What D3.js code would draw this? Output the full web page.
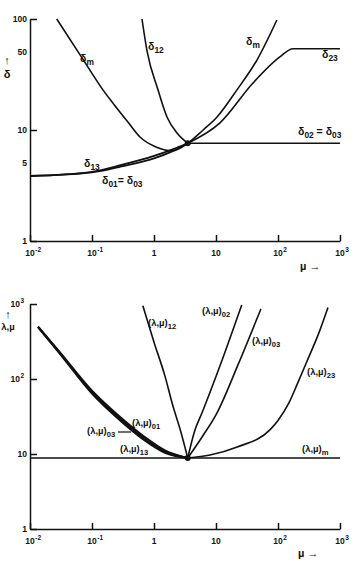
<!DOCTYPE html>
<html>
<head>
<meta charset="utf-8">
<script src="https://cdn.jsdelivr.net/npm/d3@7"></script>
<style>
  body { margin: 0; background: #fff; }
  svg text { font-family: "Liberation Sans", Arial, sans-serif; fill: #111; font-weight: bold; }
</style>
</head>
<body>
<div id="chart"></div>
<script>
var width = 358;
var height = 568;

// shared mu axis
var muDomain = [0.01, 1000];
var muDecades = [0.01, 0.1, 1, 10, 100, 1000];
var muLabels = [["10", "-2"], ["10", "-1"], ["1", ""], ["10", ""], ["10", "2"], ["10", "3"]];

// top panel (delta)
var deltaDomain = [1, 100];
var deltaMajor = [1, 10, 100];
var deltaLabels = [["1", 1], ["5", 5], ["10", 10], ["50", 50], ["100", 100]];
var deltaMin = [3.5, 7.6];
var deltaM = [[0.027, 100], [0.072, 43], [0.15, 23], [0.226, 17], [0.38, 11.8], [0.6, 8.6], [1.1, 7.0],
              [2.0, 6.5], [3.5, 7.6], [6.2, 10], [10.4, 13.1], [21.8, 23], [45.8, 42.7], [96, 98]];
var delta12 = [[0.64, 100], [0.77, 52], [1.16, 23], [1.62, 13.1], [2.35, 9.4], [3.5, 7.6]];
var delta23 = [[3.5, 7.6], [11.6, 11.6], [39.5, 26.5], [107, 45.5], [174, 54], [1000, 54]];
var delta02 = [[3.5, 7.6], [1000, 7.6]];
var delta13 = [[0.01, 3.85], [0.1, 4.2], [0.3, 4.85], [1, 5.85], [2, 6.7], [3.5, 7.6]];
var delta01 = [[0.01, 3.85], [0.1, 4.15], [0.3, 4.7], [1, 5.55], [2, 6.45], [3.5, 7.6]];

// bottom panel (lambda, mu)
var lamDomain = [1, 1000];
var lamMajor = [1, 10, 100, 1000];
var lamLabels = [[["1", ""], 1], [["10", ""], 10], [["10", "2"], 100], [["10", "3"], 1000]];
var lamMin = [3.5, 8.85];
var lamM = [[0.01, 8.85], [1000, 8.85]];
var lam01 = [[0.0135, 500], [0.03, 230], [0.1, 70], [0.3, 30], [0.7, 17], [1.5, 11.2], [3.5, 8.85]];
var lam03a = [[0.0135, 495], [0.03, 225], [0.1, 67], [0.3, 28.5], [0.7, 16.1], [1.5, 10.8], [3.5, 8.85]];
var lam13 = [[0.0135, 490], [0.03, 220], [0.1, 64], [0.3, 27], [0.7, 15.3], [1.5, 10.4], [3.5, 8.85]];
var lam12 = [[0.66, 950], [1, 310], [1.5, 110], [2, 45], [2.7, 20], [3.5, 8.85]];
var lam02 = [[3.5, 8.85], [4.5, 20], [6, 36], [11.6, 150], [26, 970]];
var lam03 = [[3.5, 8.85], [6, 17], [10.5, 36], [22.6, 154], [53, 860]];
var lam23 = [[3.5, 8.85], [8, 9.7], [22, 12.4], [74, 21], [100, 28], [150, 48], [210, 90], [300, 180], [450, 400], [640, 900]];

var svg = d3.select("#chart")
            .append("svg")
            .attr("width", width)
            .attr("height", height);

var x = d3.scaleLog().domain(muDomain).range([30, 340]);
var yTop = d3.scaleLog().domain(deltaDomain).range([241, 19]);
var yBot = d3.scaleLog().domain(lamDomain).range([529, 304]);

// text with subscripts: parts alternate normal / subscript
function label(px, py, parts, size) {
    var t = svg.append("text")
               .attr("x", px)
               .attr("y", py)
               .style("font-size", size + "px");
    var shift = 0;
    parts.forEach(function(p, i) {
        if (p === "") return;
        var sub = i % 2 == 1;
        var dy = (sub ? 3 : 0) - shift;
        shift = sub ? 3 : 0;
        t.append("tspan")
         .attr("dy", dy)
         .style("font-size", (sub ? size * 0.8 : size) + "px")
         .text(p);
    });
    return t;
}

// number with superscript, centered on the base
function powerLabel(px, py, base, sup, anchor) {
    var t = svg.append("text")
               .attr("x", px)
               .attr("y", py)
               .attr("text-anchor", anchor)
               .style("font-size", "8.5px")
               .text(base);
    if (sup) {
        var w = t.node().getComputedTextLength();
        var sx = anchor == "middle" ? px + w / 2 : px;
        if (anchor == "end") {
            t.attr("x", px - 7);
            sx = px - 7;
        }
        svg.append("text")
           .attr("x", sx + 0.5)
           .attr("y", py - 4)
           .style("font-size", "6.5px")
           .text(sup);
    }
}

function drawAxes(y, majorY, axisY) {
    var allX = x.ticks();
    var minorX = allX.filter(d => muDecades.indexOf(d) < 0);
    var gx = svg.append("g").attr("transform", "translate(0," + axisY + ")");
    gx.call(d3.axisBottom(x).tickValues(minorX).tickSize(-3).tickSizeOuter(0).tickFormat(""));
    gx.call(d3.axisBottom(x).tickValues(muDecades).tickSize(-6).tickSizeOuter(0).tickFormat(""));

    var allY = y.ticks();
    var minorY = allY.filter(d => majorY.indexOf(d) < 0);
    var gy = svg.append("g").attr("transform", "translate(30,0)");
    gy.call(d3.axisRight(y).tickValues(minorY).tickSize(4).tickSizeOuter(0).tickFormat(""));
    gy.call(d3.axisRight(y).tickValues(majorY).tickSize(7).tickSizeOuter(0).tickFormat(""));

    svg.selectAll("g path, g line")
       .attr("stroke", "#111")
       .attr("stroke-width", 1.5);

    muDecades.forEach(function(d, i) {
        powerLabel(x(d), axisY + 15, muLabels[i][0], muLabels[i][1], "middle");
    });
}

var line = function(y) {
    return d3.line()
             .x(d => x(d[0]))
             .y(d => y(d[1]))
             .curve(d3.curveMonotoneX);
};

function drawCurve(data, y, w) {
    svg.append("path")
       .attr("d", line(y)(data))
       .attr("fill", "none")
       .attr("stroke", "#111")
       .attr("stroke-width", w || 1.6);
}

// ---- top panel
drawAxes(yTop, deltaMajor, 241);
deltaLabels.forEach(function(d) {
    svg.append("text")
       .attr("x", 27)
       .attr("y", yTop(d[1]) + 3)
       .attr("text-anchor", "end")
       .style("font-size", "8.5px")
       .text(d[0]);
});
[deltaM, delta12, delta23, delta02].forEach(d => drawCurve(d, yTop));
drawCurve(delta13, yTop, 1.8);
drawCurve(delta01, yTop, 1.8);
svg.append("circle")
   .attr("cx", x(deltaMin[0]))
   .attr("cy", yTop(deltaMin[1]))
   .attr("r", 3)
   .attr("fill", "#111");

label(80, 62, ["δ", "m"], 10.5);
label(148, 50, ["δ", "12"], 10.5);
label(246, 45, ["δ", "m"], 10.5);
label(322, 58, ["δ", "23"], 10.5);
label(298, 135, ["δ", "02", " = δ", "03"], 10.5);
label(84, 167, ["δ", "13"], 10.5);
label(102, 184, ["δ", "01", "= δ", "03"], 10.5);
svg.append("text").attr("x", 7).attr("y", 64).attr("text-anchor", "middle").style("font-size", "11px").text("↑");
svg.append("text").attr("x", 7).attr("y", 78).attr("text-anchor", "middle").style("font-size", "11px").text("δ");
svg.append("text").attr("x", 300).attr("y", 270).style("font-size", "11px").text("µ →");

// ---- bottom panel
drawAxes(yBot, lamMajor, 529);
lamLabels.forEach(function(d) {
    powerLabel(27, yBot(d[1]) + 3, d[0][0], d[0][1], "end");
});
drawCurve(lamM, yBot);
drawCurve(lam12, yBot);
drawCurve(lam02, yBot);
drawCurve(lam03, yBot);
drawCurve(lam23, yBot);
drawCurve(lam01, yBot, 2);
drawCurve(lam03a, yBot, 2);
drawCurve(lam13, yBot, 2);
svg.append("circle")
   .attr("cx", x(lamMin[0]))
   .attr("cy", yBot(lamMin[1]))
   .attr("r", 3)
   .attr("fill", "#111");

label(148, 326, ["(λ,µ)", "12"], 9.5);
label(202, 314, ["(λ,µ)", "02"], 9.5);
label(252, 344, ["(λ,µ)", "03"], 9.5);
label(307, 375, ["(λ,µ)", "23"], 9.5);
label(302, 452, ["(λ,µ)", "m"], 9.5);
label(132, 426, ["(λ,µ)", "01"], 9.5);
label(87, 434, ["(λ,µ)", "03"], 9.5);
label(120, 452, ["(λ,µ)", "13"], 9.5);
svg.append("line")
   .attr("x1", 118).attr("y1", 432)
   .attr("x2", 131).attr("y2", 432)
   .attr("stroke", "#111")
   .attr("stroke-width", 1.2);
svg.append("text").attr("x", 8).attr("y", 318).attr("text-anchor", "middle").style("font-size", "11px").text("↑");
svg.append("text").attr("x", 8).attr("y", 330).attr("text-anchor", "middle").style("font-size", "9.5px").text("λ,µ");
svg.append("text").attr("x", 298).attr("y", 557).style("font-size", "11px").text("µ →");
</script>
</body>
</html>
